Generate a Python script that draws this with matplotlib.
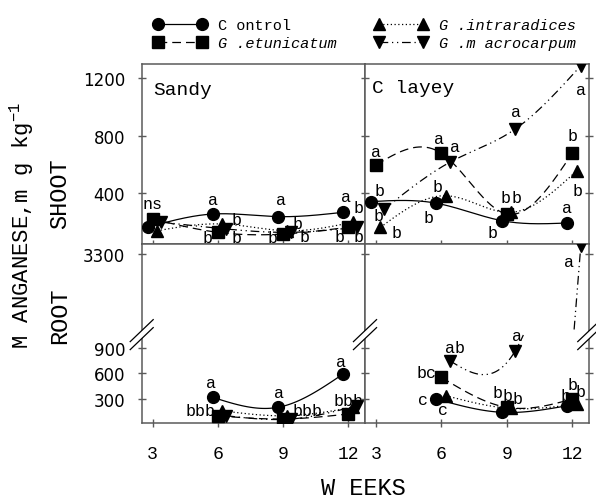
import numpy as np
import matplotlib
matplotlib.use("Agg")
import matplotlib.pyplot as plt
from matplotlib.lines import Line2D

plt.rcParams['mathtext.fontset'] = 'custom'
plt.rcParams['mathtext.rm'] = 'Liberation Mono'
MONO = 'Liberation Mono'
GRAY = '#5a5a5a'

weeks = [3, 6, 9, 12]
root_weeks = [6, 9, 12]
series_names = ['C ontrol', 'G .etunicatum', 'G .intraradices', 'G .m acrocarpum']

# Mn in shoot, mg/kg
sandy_shoot_control = [164, 256, 238, 268]
sandy_shoot_etunicatum = [222, 129, 117, 164]
sandy_shoot_intraradices = [140, 187, 140, 199]
sandy_shoot_macrocarpum = [200, 152, 129, 164]

clayey_shoot_control = [342, 331, 210, 194]
clayey_shoot_etunicatum = [596, 678, 256, 678]
clayey_shoot_intraradices = [164, 383, 268, 557]
clayey_shoot_macrocarpum = [291, 615, 846, 1285]

# Mn in root, mg/kg
sandy_root_control = [320, 203, 592]
sandy_root_etunicatum = [105, 67, 125]
sandy_root_intraradices = [163, 105, 203]
sandy_root_macrocarpum = [105, 67, 222]

clayey_root_control = [300, 145, 222]
clayey_root_etunicatum = [553, 203, 300]
clayey_root_intraradices = [339, 190, 242]
clayey_root_macrocarpum = [747, 864, 3330]

# significance letters: (series, point, text, dx px, dy px)
sandy_shoot_letters = [
    (1, 0, 'ns', 0, 15),
    (0, 1, 'a', 0, 15), (1, 1, 'b', -10, -5), (2, 1, 'b', 14, 4), (3, 1, 'b', 10, -8),
    (0, 2, 'a', 3, 17), (1, 2, 'b', -10, -3), (2, 2, 'b', 10, 7), (3, 2, 'b', 13, -4),
    (0, 3, 'a', 3, 16), (2, 3, 'b', 6, 15), (1, 3, 'b', -9, -9), (3, 3, 'b', 2, -9),
]
clayey_shoot_letters = [
    (0, 0, 'b', 9, 11), (1, 0, 'a', 0, 14), (3, 0, 'b', -6, -7), (2, 0, 'b', 16, -5),
    (1, 1, 'a', -2, 15), (3, 1, 'a', 5, 16), (2, 1, 'b', -8, 9), (0, 1, 'b', -8, -14),
    (1, 2, 'b', -1, 17), (2, 2, 'b', 5, 15), (0, 2, 'b', -9, -12), (3, 2, 'a', 1, 17),
    (3, 3, 'a', 0, -24), (1, 3, 'b', 0, 18), (2, 3, 'b', 1, -20), (0, 3, 'a', 0, 15),
]
sandy_root_letters = [
    (0, 0, 'a', -2, 15), (1, 0, 'bbb', -17, 5),
    (0, 1, 'a', 1, 15), (3, 1, 'bbb', 16, 8),
    (0, 2, 'a', -2, 13), (2, 2, 'bbb', -4, 7),
]
clayey_root_letters = [
    (3, 0, 'ab', 5, 13), (1, 0, 'bc', -15, 5), (0, 0, 'c', -13, 0), (0, 0, 'c', 7, -10),
    (0, 1, 'b', -4, 20), (1, 1, 'b', 1, 12), (2, 1, 'b', 6, 10), (3, 1, 'a', 2, 15),
    (0, 2, 'b', -2, 10), (1, 2, 'b', 0, 15), (2, 2, 'b', 4, 12), (3, 2, 'a', -12, -16),
]

markers = ['o', 's', '^', 'v']
shifts = [-0.23, 0.0, 0.21, 0.39]
styles = ['-', (0, (7, 4)), (0, (1, 2)), (0, (7, 3, 1, 3, 1, 3))]

# broken root axis
B1, B2, KGAP, KUP = 1050.0, 3000.0, 1e-3, 3.14
U1 = B1 + (B2 - B1) * KGAP


def fwd(v):
    v = np.asarray(v, float)
    return np.where(v <= B1, v, np.where(v < B2, B1 + (v - B1) * KGAP, U1 + (v - B2) * KUP))


def inv(u):
    u = np.asarray(u, float)
    return np.where(u <= B1, u, np.where(u < U1, B1 + (u - B1) / KGAP, B2 + (u - U1) / KUP))


def spline(x, y, n=50):
    x = np.asarray(x, float)
    y = np.asarray(y, float)
    m = len(x)
    h = np.diff(x)
    A = np.zeros((m, m))
    r = np.zeros(m)
    A[0, 0] = A[-1, -1] = 1
    for i in range(1, m - 1):
        A[i, i - 1] = h[i - 1]
        A[i, i] = 2 * (h[i - 1] + h[i])
        A[i, i + 1] = h[i]
        r[i] = 6 * ((y[i + 1] - y[i]) / h[i] - (y[i] - y[i - 1]) / h[i - 1])
    M = np.linalg.solve(A, r)
    xs, ys = [], []
    for i in range(m - 1):
        t = np.linspace(x[i], x[i + 1], n)
        a = x[i + 1] - t
        b = t - x[i]
        s = (M[i] * a**3 + M[i + 1] * b**3) / (6 * h[i]) \
            + (y[i] / h[i] - M[i] * h[i] / 6) * a + (y[i + 1] / h[i] - M[i + 1] * h[i] / 6) * b
        xs.append(t)
        ys.append(s)
    return np.concatenate(xs), np.concatenate(ys)


def draw(ax, xs, series, letters, broken=False):
    pts = []
    for k, vals in enumerate(series):
        x = np.asarray(xs, float) + shifts[k]
        cx, cy = spline(x, vals)
        if broken:
            cy = np.where((cy > B1) & (cy < B2), np.nan, cy)
        ax.plot(cx, cy, color='black', lw=0.9, linestyle=styles[k], zorder=3)
        ax.plot(x, vals, linestyle='none', marker=markers[k], ms=8.5, color='black', zorder=4)
        pts.append((x, vals))
    for k, i, txt, dx, dy in letters:
        ax.annotate(txt, (pts[k][0][i], pts[k][1][i]), xytext=(dx, dy), textcoords='offset pixels',
                    ha='center', va='center', fontsize=12, family=MONO, zorder=5)


def style(ax, ylab, xlab, left_ticks=True, right_ticks=False):
    for s in ax.spines.values():
        s.set_color(GRAY)
        s.set_linewidth(1.1)
    ax.tick_params(direction='inout', length=6, width=1.0, color=GRAY, pad=9,
                   left=left_ticks, right=right_ticks, top=False, bottom=True,
                   labelleft=ylab, labelbottom=xlab)
    ax.tick_params(axis='x', pad=13)
    for t in ax.get_yticklabels():
        t.set_fontsize(12)
        t.set_family('DejaVu Sans')
    for t in ax.get_xticklabels():
        t.set_fontsize(13)
        t.set_family(MONO)


def break_mark(ax, xa, ya):
    w, hgt, off = 11.5 / 223.3, 11 / 179.0, 4 / 179.0
    poly = plt.Polygon([(xa - w, ya - hgt - off), (xa + w, ya + hgt - off),
                        (xa + w, ya + hgt + off), (xa - w, ya - hgt + off)],
                       closed=True, transform=ax.transAxes, facecolor='white',
                       edgecolor='none', clip_on=False, zorder=10)
    ax.add_patch(poly)
    for o in (-off, off):
        ax.add_line(Line2D([xa - w, xa + w], [ya - hgt + o, ya + hgt + o], transform=ax.transAxes,
                           color='black', lw=0.9, clip_on=False, zorder=11))


fig = plt.figure(figsize=(5.96, 5.02), dpi=100)
W, H = 596.0, 502.0
ax_ss = fig.add_axes([141.7 / W, 1 - 245 / H, 223.3 / W, 180 / H])
ax_cs = fig.add_axes([365 / W, 1 - 245 / H, 224.3 / W, 180 / H])
ax_sr = fig.add_axes([141.7 / W, 1 - 424 / H, 223.3 / W, 179 / H])
ax_cr = fig.add_axes([365 / W, 1 - 424 / H, 224.3 / W, 179 / H])

draw(ax_ss, weeks, [sandy_shoot_control, sandy_shoot_etunicatum,
                    sandy_shoot_intraradices, sandy_shoot_macrocarpum], sandy_shoot_letters)
draw(ax_cs, weeks, [clayey_shoot_control, clayey_shoot_etunicatum,
                    clayey_shoot_intraradices, clayey_shoot_macrocarpum], clayey_shoot_letters)
for ax in (ax_sr, ax_cr):
    ax.set_yscale('function', functions=(fwd, inv))
draw(ax_sr, root_weeks, [sandy_root_control, sandy_root_etunicatum,
                         sandy_root_intraradices, sandy_root_macrocarpum], sandy_root_letters, True)
draw(ax_cr, root_weeks, [clayey_root_control, clayey_root_etunicatum,
                         clayey_root_intraradices, clayey_root_macrocarpum], clayey_root_letters, True)

root_lim = (20, 3337)
for ax in (ax_ss, ax_cs, ax_sr, ax_cr):
    ax.set_xlim(2.5, 12.78)
    ax.set_xticks(weeks)
for ax in (ax_ss, ax_cs):
    ax.set_ylim(48, 1297)
    ax.set_yticks([400, 800, 1200])
for ax in (ax_sr, ax_cr):
    ax.set_ylim(*root_lim)
    ax.set_yticks([300, 600, 900, 3300])
    ax.set_yticklabels(['300', '600', '900', '3300'])
    ax.minorticks_off()

style(ax_ss, True, False)
style(ax_cs, False, False, True, True)
style(ax_sr, True, True)
style(ax_cr, False, True, True, True)

u0, u1 = fwd(root_lim[0]), fwd(root_lim[1])
yb = float((fwd(B2) - u0) / (u1 - u0))
break_mark(ax_sr, 0.0, yb)
break_mark(ax_cr, 0.0, yb)
break_mark(ax_cr, 1.0, yb)

ax_ss.text(0.05, 0.86, 'Sandy', transform=ax_ss.transAxes, fontsize=14, family=MONO,
           ha='left', va='center')
ax_cs.text(0.03, 0.87, 'C layey', transform=ax_cs.transAxes, fontsize=14, family=MONO,
           ha='left', va='center')

fig.text(60 / W, 1 - 194 / H, 'SHOOT', rotation=90, fontsize=17, family=MONO, ha='center', va='center')
fig.text(60 / W, 1 - 316 / H, 'ROOT', rotation=90, fontsize=17, family=MONO, ha='center', va='center')
fig.text(21.5 / W, 1 - 225 / H, 'M ANGANESE,m g kg$^{-1}$', rotation=90, fontsize=16, family=MONO,
         ha='center', va='center')
fig.text(363 / W, 1 - 489 / H, 'W EEKS', fontsize=17, family=MONO, ha='center', va='center')

handles = [Line2D([], [], color='black', lw=0.9, linestyle=styles[k], marker=markers[k], ms=8.5)
           for k in range(4)]
leg = fig.legend(handles, series_names, ncol=2, loc='upper left', bbox_to_anchor=(153.4 / W, 1 - 19 / H),
                 frameon=False, prop={'family': MONO, 'size': 11}, handlelength=3.47, handletextpad=0.75,
                 columnspacing=2.5, labelspacing=0.27, numpoints=2, borderaxespad=0, borderpad=0)
for t in leg.get_texts()[1:]:
    t.set_style('italic')

fig.savefig('out.png', dpi=100)
